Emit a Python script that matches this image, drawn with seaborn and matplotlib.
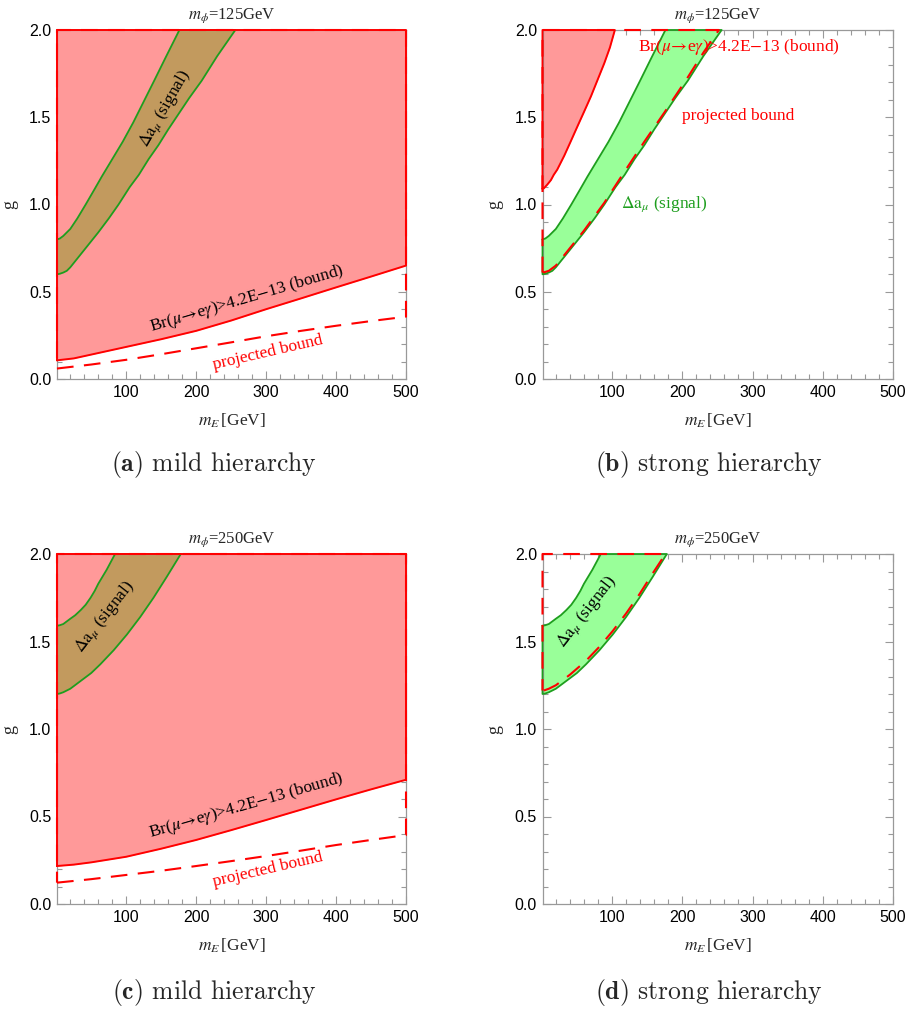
import numpy as np
import pandas as pd
import matplotlib
matplotlib.use("Agg")
import matplotlib.pyplot as plt
import seaborn as sns

# ---------------- data ----------------
# Delta a_mu signal band, m_phi = 125 GeV  (panels a, b)
sig125_upper_x = [1, 5, 10, 15, 20, 25, 30, 36, 42, 55, 65, 80, 95, 110, 125, 140, 156, 176]
sig125_upper_g = [0.80, 0.805, 0.82, 0.84, 0.86, 0.89, 0.92, 0.96, 1.00, 1.09, 1.16, 1.26, 1.36, 1.47, 1.59, 1.71, 1.84, 2.00]
sig125_lower_x = [1, 5, 10, 15, 20, 25, 30, 36, 42, 50, 60, 75, 89, 105, 118, 132, 146, 160, 175, 190, 208, 230, 256]
sig125_lower_g = [0.60, 0.603, 0.61, 0.62, 0.64, 0.665, 0.69, 0.72, 0.75, 0.79, 0.84, 0.92, 1.00, 1.10, 1.17, 1.26, 1.34, 1.43, 1.52, 1.61, 1.71, 1.85, 2.00]

# Delta a_mu signal band, m_phi = 250 GeV  (panels c, d)
sig250_upper_x = [1, 5, 10, 15, 20, 27, 35, 42, 49, 55, 60, 72, 84]
sig250_upper_g = [1.59, 1.593, 1.60, 1.615, 1.63, 1.65, 1.68, 1.71, 1.75, 1.79, 1.83, 1.91, 2.00]
sig250_lower_x = [1, 5, 10, 15, 20, 30, 40, 50, 63, 82, 101, 120, 139, 158, 178]
sig250_lower_g = [1.20, 1.203, 1.21, 1.22, 1.23, 1.26, 1.29, 1.32, 1.37, 1.45, 1.54, 1.64, 1.75, 1.87, 2.00]

# Br(mu -> e gamma) bound and projected bound
bound_a_x = [1, 25, 50, 100, 150, 200, 250, 300, 350, 400, 450, 500]
bound_a_g = [0.107, 0.118, 0.140, 0.184, 0.228, 0.276, 0.335, 0.400, 0.462, 0.525, 0.587, 0.650]
proj_a_x = [1, 50, 100, 150, 200, 250, 300, 350, 400, 450, 500]
proj_a_g = [0.060, 0.083, 0.110, 0.142, 0.176, 0.210, 0.245, 0.276, 0.305, 0.332, 0.357]

bound_b_x = [1, 3, 8, 13, 17, 22, 32, 41, 51, 60, 70, 80, 89, 97, 104]
bound_b_g = [1.09, 1.093, 1.115, 1.14, 1.17, 1.20, 1.28, 1.36, 1.45, 1.53, 1.62, 1.72, 1.81, 1.90, 2.00]
proj_b_x = [2, 10, 20, 30, 42, 60, 89, 118, 146, 175, 208, 230, 252]
proj_b_g = [0.61, 0.62, 0.65, 0.70, 0.76, 0.85, 1.01, 1.19, 1.36, 1.53, 1.73, 1.87, 2.00]

bound_c_x = [1, 25, 50, 100, 150, 200, 250, 300, 350, 400, 450, 500]
bound_c_g = [0.217, 0.225, 0.238, 0.270, 0.316, 0.366, 0.422, 0.480, 0.539, 0.598, 0.655, 0.710]
proj_c_x = [1, 50, 100, 150, 200, 250, 300, 350, 400, 450, 500]
proj_c_g = [0.122, 0.142, 0.166, 0.190, 0.217, 0.245, 0.274, 0.305, 0.337, 0.366, 0.394]

proj_d_x = [3, 10, 20, 30, 40, 63, 82, 101, 120, 139, 158, 176]
proj_d_g = [1.22, 1.23, 1.25, 1.28, 1.31, 1.39, 1.47, 1.56, 1.66, 1.77, 1.89, 2.00]

titles = ["$m_\\phi$=125GeV", "$m_\\phi$=125GeV", "$m_\\phi$=250GeV", "$m_\\phi$=250GeV"]
captions = ["(a)", "(b)", "(c)", "(d)"]
caption_texts = [" mild hierarchy", " strong hierarchy", " mild hierarchy", " strong hierarchy"]
x_ticks = [100, 200, 300, 400, 500]
y_ticks = [0.0, 0.5, 1.0, 1.5, 2.0]

# ---------------- style ----------------
XMIN, XMAX, GMIN, GMAX = 1, 500, 0.0, 2.0
RED = "#FF0000"
RED_FILL = "#FF9999"
GREEN_LINE = "#1E9E1E"
GREEN_FILL = "#99FF99"
BROWN_FILL = "#C29A5E"
FRAME = "#999999"
DASH = (0, (8, 5))
ANN = 12.5

sns.set_theme(style="ticks")
plt.rcParams["font.family"] = ["Liberation Serif", "DejaVu Serif"]
plt.rcParams["mathtext.fontset"] = "stix"

fig = plt.figure(figsize=(9.09, 10.11), dpi=100)
W, H = 909.0, 1011.0
pos = [
    [57 / W, 1 - 379 / H, 349 / W, 349 / H],
    [542.5 / W, 1 - 379 / H, 350.5 / W, 349 / H],
    [57 / W, 1 - 904 / H, 349 / W, 350 / H],
    [542.5 / W, 1 - 904 / H, 350.5 / W, 350 / H],
]
axes = [fig.add_axes(p) for p in pos]


def line(ax, xs, gs, color, lw=1.3, ls="-", z=5):
    df = pd.DataFrame({"x": xs, "g": gs})
    sns.lineplot(data=df, x="x", y="g", ax=ax, sort=False, estimator=None,
                 color=color, lw=lw, linestyle=ls, zorder=z, clip_on=False)


def bound_region(ax, bx, bg):
    # filled region above the bound curve, with its outline
    ax.fill_between(bx, bg, GMAX, color=RED_FILL, lw=0, zorder=1)
    if bx[-1] >= XMAX:
        ox = list(bx) + [XMAX, XMIN, XMIN]
        og = list(bg) + [GMAX, GMAX, bg[0]]
    else:
        ox = list(bx) + [XMIN, XMIN]
        og = list(bg) + [GMAX, bg[0]]
    line(ax, ox, og, RED, lw=1.4, z=7)


def signal_band(ax, ux, ug, lx, lg, fill):
    px = list(ux) + list(lx[::-1])
    pg = list(ug) + list(lg[::-1])
    ax.fill(px, pg, color=fill, lw=0, zorder=2)
    ox = px + [ux[0]]
    og = pg + [ug[0]]
    line(ax, ox, og, GREEN_LINE, lw=1.3, z=4)


def projected(ax, px, pg):
    # dashed outline of projected-bound region (curve + frame edges)
    if px[-1] >= XMAX:
        ox = list(px) + [XMAX, XMAX, XMIN, XMIN]
        og = list(pg) + [pg[-1], GMAX, GMAX, pg[0]]
    else:
        ox = list(px) + [XMIN, XMIN]
        og = list(pg) + [GMAX, pg[0]]
    line(ax, ox, og, RED, lw=1.5, ls=DASH, z=6)


BR_TXT = "Br($\\mu\\!\\rightarrow\\!$e$\\gamma$)>4.2E$-$13 (bound)"
DA_TXT = "$\\Delta\\mathrm{a}_\\mu$ (signal)"

# panel (a)
ax = axes[0]
bound_region(ax, bound_a_x, bound_a_g)
signal_band(ax, sig125_upper_x, sig125_upper_g, sig125_lower_x, sig125_lower_g, BROWN_FILL)
projected(ax, proj_a_x, proj_a_g)
ax.text(156, 1.55, DA_TXT, rotation=60, rotation_mode="anchor",
        ha="center", va="center", fontsize=ANN, color="black", zorder=9)
ax.text(272, 0.46, BR_TXT, rotation=16.5,
        rotation_mode="anchor", ha="center", va="center", fontsize=ANN, color="black", zorder=9)
ax.text(302, 0.15, "projected bound", rotation=13, rotation_mode="anchor",
        ha="center", va="center", fontsize=ANN, color=RED, zorder=9)

# panel (b)
ax = axes[1]
bound_region(ax, bound_b_x, bound_b_g)
signal_band(ax, sig125_upper_x, sig125_upper_g, sig125_lower_x, sig125_lower_g, GREEN_FILL)
projected(ax, proj_b_x, proj_b_g)
ax.text(280, 1.90, BR_TXT, ha="center", va="center", fontsize=ANN, color=RED, zorder=9)
ax.text(280, 1.505, "projected bound", ha="center", va="center", fontsize=ANN, color=RED, zorder=9)
ax.text(174, 1.0, DA_TXT, ha="center", va="center", fontsize=ANN, color=GREEN_LINE, zorder=9)

# panel (c)
ax = axes[2]
bound_region(ax, bound_c_x, bound_c_g)
signal_band(ax, sig250_upper_x, sig250_upper_g, sig250_lower_x, sig250_lower_g, BROWN_FILL)
projected(ax, proj_c_x, proj_c_g)
ax.text(70, 1.64, DA_TXT, rotation=52, rotation_mode="anchor",
        ha="center", va="center", fontsize=ANN, color="black", zorder=9)
ax.text(272, 0.56, BR_TXT, rotation=16,
        rotation_mode="anchor", ha="center", va="center", fontsize=ANN, color="black", zorder=9)
ax.text(302, 0.195, "projected bound", rotation=13, rotation_mode="anchor",
        ha="center", va="center", fontsize=ANN, color=RED, zorder=9)

# panel (d)
ax = axes[3]
signal_band(ax, sig250_upper_x, sig250_upper_g, sig250_lower_x, sig250_lower_g, GREEN_FILL)
projected(ax, proj_d_x, proj_d_g)
ax.text(64, 1.67, DA_TXT, rotation=52, rotation_mode="anchor",
        ha="center", va="center", fontsize=ANN, color="black", zorder=9)

for i, ax in enumerate(axes):
    ax.set_xlim(XMIN, XMAX)
    ax.set_ylim(GMIN, GMAX)
    ax.set_xticks(x_ticks)
    ax.set_yticks(y_ticks)
    ax.set_xticklabels([str(t) for t in x_ticks], family="Liberation Sans", fontsize=11.5)
    ax.set_yticklabels([f"{t:.1f}" for t in y_ticks], family="Liberation Sans", fontsize=11.5)
    ax.set_xticks(np.arange(20, 500, 20), minor=True)
    ax.set_yticks(np.arange(0.1, 2.0, 0.1), minor=True)
    ax.tick_params(which="both", direction="in", top=True, right=True, color=FRAME,
                   width=0.8, labelcolor="black", pad=4)
    ax.tick_params(which="major", length=6)
    ax.tick_params(which="minor", length=3.5)
    for s in ax.spines.values():
        s.set_color(FRAME)
        s.set_linewidth(0.9)
    ax.set_xlabel("$m_E\\,$[GeV]", fontsize=12.5)
    ax.set_ylabel("g", fontsize=13, rotation=90)
    ax.xaxis.set_label_coords(0.5, -0.093)
    ax.yaxis.set_label_coords(-0.112, 0.5)
    ax.set_title(titles[i], fontsize=12, pad=8)
    ax.set_facecolor("white")

cap_pos = [(214, 465), (709, 465), (214, 993), (709, 993)]
for (cx, cy), c, t in zip(cap_pos, captions, caption_texts):
    fig.text(cx / W, 1 - cy / H, "$\\mathbf{" + c + "}$" + t, ha="center", va="center",
             fontsize=18.5, family="cmr10", math_fontfamily="cm")

fig.savefig("out.png", dpi=100, facecolor="white")
